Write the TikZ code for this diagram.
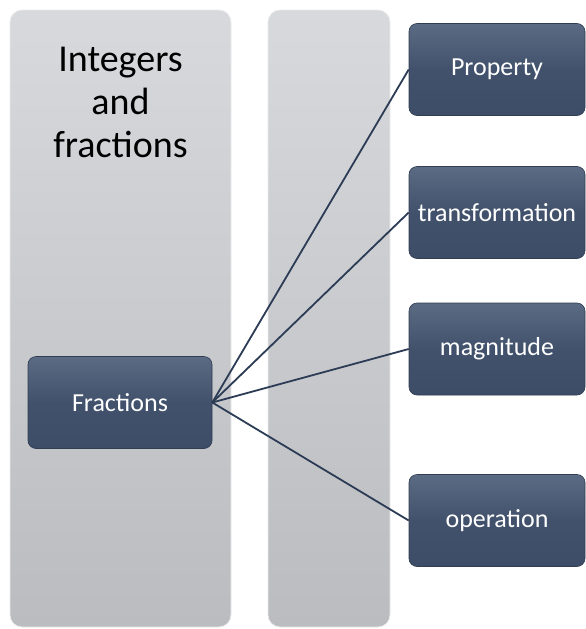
\documentclass[tikz,border=0pt]{standalone}
\usepackage{fontspec}
\setmainfont{Carlito}
\definecolor{paneltop}{HTML}{D7D9DD}
\definecolor{panelbot}{HTML}{BBBCC0}
\definecolor{boxtop}{HTML}{5B6B84}
\definecolor{boxbot}{HTML}{3D4D67}
\definecolor{linkcol}{HTML}{2C3C55}
\tikzset{
  panel/.style={rounded corners=12pt, top color=paneltop, bottom color=panelbot, draw=white!85!gray, line width=0.8pt},
  itembox/.style={rounded corners=8pt, top color=boxtop, bottom color=boxbot, middle color=boxbot!85!boxtop, draw=boxbot!80!black, line width=0.6pt,
    text=white, font=\fontsize{26}{31}\selectfont, inner sep=0pt, minimum height=92pt},
  link/.style={draw=linkcol, line width=1.8pt}
}
\begin{document}
\begin{tikzpicture}[x=1pt,y=-1pt]
\useasboundingbox (0,0) rectangle (586,629);
\fill[white] (0,0) rectangle (586,629);
\path[panel] (10,10) rectangle (231,627);
\path[panel] (268,10) rectangle (390,627);
\node[anchor=north, align=center, inner sep=0pt, text=black,
  font=\fontsize{38}{43}\selectfont] (title) at (120.5,46.5) {Integers\\and\\fractions};
\node[itembox, minimum width=184pt] (fr) at (120,402.5) {Fractions};
\node[itembox, minimum width=176pt] (prop) at (497,69.5) {Property};
\node[itembox, minimum width=176pt] (trans) at (497,212.5) {transformation};
\node[itembox, minimum width=176pt] (mag) at (497,349) {magnitude};
\node[itembox, minimum width=176pt] (op) at (497,520.5) {operation};
\draw[link] (fr.east) -- (prop.west);
\draw[link] (fr.east) -- (trans.west);
\draw[link] (fr.east) -- (mag.west);
\draw[link] (fr.east) -- (op.west);
\end{tikzpicture}
\end{document}
